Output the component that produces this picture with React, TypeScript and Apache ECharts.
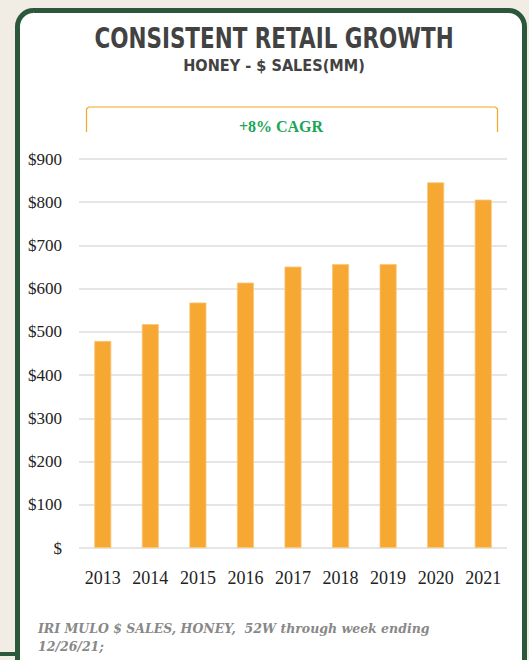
import React, { useEffect, useRef } from "react";
import * as echarts from "echarts";

const years = ["2013", "2014", "2015", "2016", "2017", "2018", "2019", "2020", "2021"];
const sales = [479, 518, 568, 614, 651, 657, 657, 846, 806];
const titleText = "CONSISTENT RETAIL GROWTH";
const subtitleText = "HONEY - $ SALES(MM)";
const cagrText = "+8% CAGR";
const footnoteLines = ["IRI MULO $ SALES, HONEY,  52W through week ending", "12/26/21;"];

export default function App() {
  const ref = useRef<HTMLDivElement>(null);
  useEffect(() => {
    if (!ref.current) return;
    const chart = echarts.init(ref.current, null, { renderer: "svg" });
    chart.setOption({
      animation: false,
      backgroundColor: "#f1ede4",
      graphic: [
        {
          type: "rect",
          z: -10,
          shape: { x: 17.5, y: 10.5, width: 507, height: 700, r: 16 },
          style: { fill: "#ffffff", stroke: "#2b573a", lineWidth: 5 },
        },
        {
          type: "line",
          z: -9,
          shape: { x1: 0, y1: 654, x2: 17, y2: 654 },
          style: { stroke: "#2b573a", lineWidth: 4 },
        },
        {
          type: "text",
          x: 274,
          y: 38,
          scaleY: 1.3,
          style: {
            text: titleText,
            font: "bold 21.5px 'DejaVu Sans'",
            fill: "#424242",
            align: "center",
            verticalAlign: "middle",
          },
        },
        {
          type: "text",
          x: 274,
          y: 66,
          scaleY: 1.1,
          style: {
            text: subtitleText,
            font: "bold 14.5px 'DejaVu Sans'",
            fill: "#424242",
            align: "center",
            verticalAlign: "middle",
          },
        },
        {
          type: "polyline",
          shape: {
            points: [
              [86.5, 132],
              [86.5, 109],
              [88.5, 107],
              [495.5, 107],
              [497.5, 109],
              [497.5, 132],
            ],
          },
          style: { stroke: "#f5a623", lineWidth: 1.2, fill: null },
        },
        {
          type: "text",
          x: 281,
          y: 126,
          style: {
            text: cagrText,
            font: "bold 16px 'Liberation Serif'",
            fill: "#1aa557",
            align: "center",
            verticalAlign: "middle",
          },
        },
        {
          type: "text",
          x: 38,
          y: 628,
          style: {
            text: footnoteLines[0],
            font: "italic bold 12.5px 'DejaVu Serif'",
            fill: "#888888",
            align: "left",
            verticalAlign: "middle",
          },
        },
        {
          type: "text",
          x: 38,
          y: 646,
          style: {
            text: footnoteLines[1],
            font: "italic bold 12.5px 'DejaVu Serif'",
            fill: "#888888",
            align: "left",
            verticalAlign: "middle",
          },
        },
      ],
      grid: { left: 79, right: 22, top: 159, bottom: 112 },
      xAxis: {
        type: "category",
        data: years,
        axisLine: { show: false },
        axisTick: { show: false },
        axisLabel: {
          margin: 21,
          color: "#222222",
          fontFamily: "'Liberation Serif'",
          fontSize: 18,
        },
      },
      yAxis: {
        type: "value",
        min: 0,
        max: 900,
        interval: 100,
        axisLine: { show: false },
        axisTick: { show: false },
        splitLine: { lineStyle: { color: "#dcdcdc", width: 1.5 } },
        axisLabel: {
          margin: 17,
          color: "#222222",
          fontFamily: "'Liberation Serif'",
          fontSize: 17,
          formatter: (v: number) => (v === 0 ? "$" : "$" + v),
        },
      },
      series: [
        {
          type: "bar",
          data: sales,
          barWidth: 17,
          itemStyle: { color: "#f6a833", borderColor: "#f9c77a", borderWidth: 0.8 },
        },
      ],
    });
    return () => chart.dispose();
  }, []);
  return (
    <div
      ref={ref}
      style={{ position: "fixed", left: 0, top: 0, width: 529, height: 660 }}
    />
  );
}
